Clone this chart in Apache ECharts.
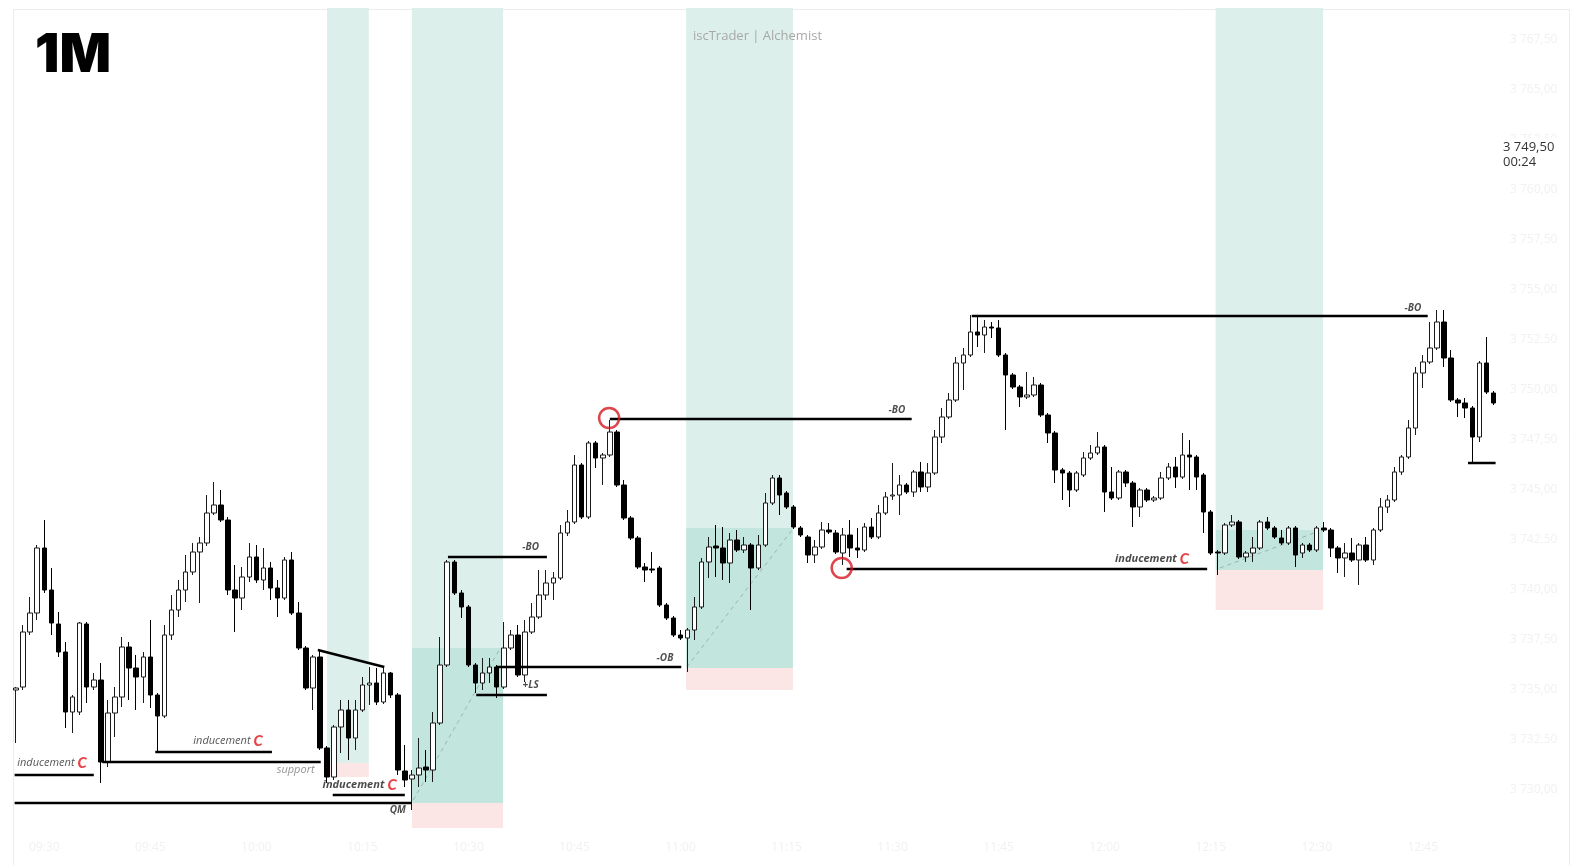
<!DOCTYPE html>
<html>
<head>
<meta charset="utf-8">
<title>1M</title>
<script src="https://cdn.jsdelivr.net/npm/echarts@6/dist/echarts.min.js"></script>
<style>
  html, body { margin: 0; padding: 0; background: #fff; }
  #main { width: 1573px; height: 865px; }
</style>
</head>
<body>
<div id="main"></div>
<script>
// 1-minute candles, [open, close, low, high]
var candles = [
  [3735.0,3735.1,3732.35,3735.15],[3735.15,3737.9,3735.0,3738.25],[3737.9,3738.85,3737.75,3739.65],[3738.85,3742.1,3738.5,3742.25],
  [3742.1,3740.0,3739.85,3743.5],[3740.0,3738.35,3737.75,3741.1],[3738.3,3736.9,3736.65,3738.9],[3736.9,3733.9,3733.1,3737.4],
  [3733.9,3734.65,3732.85,3734.75],[3733.9,3738.35,3733.75,3738.4],[3738.3,3735.15,3734.35,3738.4],[3735.15,3735.5,3735.0,3735.85],
  [3735.5,3731.4,3730.35,3736.35],[3731.4,3733.85,3731.15,3734.5],[3733.85,3734.65,3732.65,3735.15],[3734.65,3737.15,3734.15,3737.65],
  [3737.15,3736.1,3734.5,3737.4],[3736.1,3735.65,3734.0,3736.75],[3735.65,3736.65,3734.35,3736.9],[3736.65,3734.75,3734.1,3738.5],
  [3734.75,3733.7,3731.9,3734.85],[3733.7,3737.75,3733.6,3738.25],[3737.75,3739.0,3737.5,3739.75],[3739.0,3740.0,3738.65,3740.5],
  [3740.0,3740.9,3739.4,3741.75],[3740.9,3741.9,3740.75,3742.35],[3741.9,3742.35,3739.35,3742.65],[3742.35,3743.85,3742.2,3744.75],
  [3743.85,3744.25,3743.75,3745.4],[3744.25,3743.5,3743.4,3745.0],[3743.5,3740.0,3739.75,3743.65],[3740.0,3739.6,3737.9,3741.25],
  [3739.6,3740.65,3739.0,3741.15],[3740.65,3741.65,3740.4,3742.35],[3741.65,3740.5,3740.35,3742.25],[3740.5,3741.1,3740.0,3742.1],
  [3741.1,3740.1,3739.5,3741.4],[3740.1,3739.6,3738.65,3740.5],[3739.6,3741.5,3739.5,3741.65],[3741.5,3738.85,3738.75,3741.9],
  [3738.85,3737.1,3737.0,3739.4],[3737.1,3735.1,3735.0,3737.2],[3735.1,3736.65,3734.0,3736.75],[3736.65,3732.1,3732.0,3737.0],
  [3732.1,3730.65,3730.35,3732.2],[3730.65,3733.15,3730.5,3733.25],[3733.15,3734.0,3731.85,3734.5],[3734.0,3732.6,3731.5,3734.5],
  [3732.6,3734.0,3732.0,3734.5],[3734.0,3735.25,3733.9,3735.65],[3735.25,3735.35,3734.25,3736.15],[3735.35,3734.4,3734.25,3736.1],
  [3734.4,3735.85,3734.3,3736.15],[3735.85,3734.75,3734.6,3735.9],[3734.75,3731.0,3730.75,3734.85],[3730.95,3730.5,3730.15,3732.25],
  [3730.55,3730.75,3729.0,3731.0],[3730.75,3731.1,3730.15,3732.6],[3731.15,3731.0,3730.4,3732.0],[3731.0,3733.35,3730.4,3733.9],
  [3733.35,3736.25,3733.25,3737.65],[3736.25,3741.4,3736.15,3741.5],[3741.4,3739.85,3739.75,3741.5],[3739.85,3739.15,3738.6,3740.0],
  [3739.15,3736.25,3736.15,3739.25],[3736.25,3735.35,3734.85,3736.35],[3735.35,3735.85,3735.0,3736.6],[3735.85,3736.15,3735.35,3736.6],
  [3736.15,3735.15,3734.6,3736.25],[3735.15,3737.1,3735.05,3738.4],[3737.1,3737.75,3737.0,3738.0],[3737.75,3735.75,3735.65,3738.25],
  [3735.75,3737.9,3735.4,3738.5],[3737.9,3738.65,3737.8,3739.35],[3738.65,3739.75,3738.55,3741.0],[3739.75,3740.35,3739.5,3741.0],
  [3740.35,3740.6,3739.5,3740.9],[3740.6,3742.85,3740.5,3743.25],[3742.85,3743.4,3742.7,3744.0],[3743.4,3746.25,3743.3,3746.75],
  [3746.25,3743.65,3743.55,3746.35],[3743.65,3747.35,3743.55,3747.45],[3747.35,3746.6,3746.1,3747.45],[3746.6,3746.75,3745.25,3746.85],
  [3746.75,3747.9,3746.65,3748.5],[3747.9,3745.25,3745.15,3748.0],[3745.25,3743.6,3743.5,3745.5],[3743.6,3742.6,3742.5,3743.7],
  [3742.6,3741.15,3741.05,3742.7],[3741.15,3741.0,3740.4,3741.35],[3741.05,3741.0,3740.85,3741.9],[3741.1,3739.25,3739.15,3741.2],
  [3739.25,3738.6,3738.5,3739.35],[3738.6,3737.75,3737.65,3738.7],[3737.75,3737.6,3737.5,3738.0],[3737.6,3738.0,3735.9,3738.1],
  [3738.0,3739.15,3737.5,3739.65],[3739.15,3741.4,3739.05,3741.6],[3741.4,3742.15,3740.6,3742.65],[3742.2,3742.1,3740.65,3743.25],
  [3742.1,3741.35,3740.5,3743.15],[3741.35,3742.5,3740.35,3742.85],[3742.5,3742.0,3741.9,3743.0],[3742.0,3742.25,3741.85,3742.65],
  [3742.25,3741.1,3739.0,3742.35],[3741.1,3742.25,3741.0,3742.75],[3742.25,3744.35,3742.15,3744.85],[3744.35,3745.6,3744.25,3745.75],
  [3745.6,3744.75,3743.75,3745.75],[3744.85,3744.15,3744.05,3744.95],[3744.15,3743.15,3743.05,3744.25],[3743.1,3742.75,3742.65,3743.2],
  [3742.65,3741.75,3741.35,3742.75],[3741.75,3742.15,3741.35,3742.5],[3742.15,3743.0,3742.05,3743.4],[3743.0,3742.9,3742.8,3743.35],
  [3742.85,3741.9,3741.8,3743.0],[3741.85,3742.75,3741.25,3743.1],[3742.75,3742.1,3741.65,3743.5],[3742.1,3742.0,3741.6,3743.1],
  [3742.0,3743.15,3741.9,3743.35],[3743.15,3742.65,3742.55,3743.6],[3742.65,3743.85,3742.55,3744.25],[3743.85,3744.65,3743.75,3744.9],
  [3744.7,3744.75,3744.5,3746.35],[3744.75,3745.25,3743.75,3745.75],[3745.25,3744.9,3744.8,3745.35],[3744.9,3745.9,3744.65,3746.0],
  [3745.9,3745.15,3744.9,3746.4],[3745.15,3745.85,3744.9,3746.35],[3745.85,3747.65,3745.75,3748.0],[3747.65,3748.65,3747.35,3749.1],
  [3748.65,3749.5,3748.55,3749.85],[3749.5,3751.35,3749.4,3751.65],[3751.35,3751.75,3750.0,3752.1],[3751.75,3752.9,3751.65,3753.75],
  [3752.9,3752.75,3752.15,3753.65],[3752.75,3753.15,3751.85,3753.5],[3753.15,3753.1,3752.6,3753.4],[3753.1,3751.75,3751.65,3753.5],
  [3751.75,3750.75,3748.0,3751.85],[3750.75,3750.15,3750.05,3750.85],[3750.15,3749.65,3749.15,3750.25],[3749.65,3749.75,3749.55,3750.9],
  [3749.75,3750.25,3749.65,3750.65],[3750.25,3748.75,3748.65,3750.35],[3748.75,3747.85,3747.35,3748.85],[3747.85,3746.0,3745.35,3747.95],
  [3746.0,3745.85,3744.5,3746.1],[3745.85,3745.0,3744.15,3745.95],[3745.0,3745.85,3744.9,3745.95],[3745.75,3746.6,3745.65,3746.9],
  [3746.6,3746.85,3746.5,3747.25],[3746.85,3747.15,3746.75,3747.9],[3747.15,3744.9,3743.9,3747.25],[3744.9,3744.6,3744.5,3746.15],
  [3744.6,3745.9,3744.5,3746.0],[3745.9,3745.35,3745.15,3746.0],[3745.35,3744.15,3743.15,3745.45],[3744.15,3745.0,3743.65,3745.1],
  [3745.0,3744.5,3744.4,3745.1],[3744.5,3744.6,3744.4,3744.7],[3744.6,3745.6,3744.5,3745.9],[3745.6,3746.15,3745.5,3746.35],
  [3746.15,3745.65,3745.1,3746.65],[3745.65,3746.75,3745.55,3747.85],[3746.75,3746.65,3745.0,3747.5],[3746.65,3745.65,3745.0,3746.75],
  [3745.75,3743.9,3742.85,3745.85],[3743.9,3741.85,3741.75,3744.0],[3741.9,3741.85,3740.75,3742.0],[3741.85,3743.25,3741.75,3743.35],
  [3743.25,3743.4,3743.15,3743.75],[3743.4,3741.65,3741.55,3743.5],[3741.65,3741.85,3741.4,3741.95],[3741.85,3742.1,3741.4,3742.65],
  [3742.1,3743.4,3742.0,3743.5],[3743.4,3743.1,3743.0,3743.65],[3743.1,3742.65,3742.55,3743.2],[3742.6,3742.35,3742.25,3743.0],
  [3742.35,3743.1,3742.25,3743.2],[3743.1,3741.75,3741.15,3743.2],[3741.85,3742.25,3741.6,3742.35],[3742.25,3742.0,3741.9,3742.35],
  [3742.0,3743.1,3741.9,3743.2],[3743.1,3743.0,3742.9,3743.4],[3743.0,3742.1,3741.65,3743.1],[3742.1,3741.6,3740.85,3742.2],
  [3741.6,3741.85,3740.65,3742.35],[3741.85,3741.5,3741.4,3742.6],[3741.5,3742.25,3740.25,3742.35],[3742.25,3741.5,3741.4,3742.65],
  [3741.5,3743.0,3741.25,3743.1],[3743.0,3744.15,3742.9,3744.6],[3744.15,3744.5,3743.85,3744.75],[3744.5,3745.9,3744.4,3746.15],
  [3745.9,3746.65,3745.75,3746.75],[3746.65,3748.1,3746.55,3748.5],[3748.1,3750.85,3747.75,3751.15],[3750.85,3751.4,3750.1,3751.75],
  [3751.4,3752.1,3751.3,3753.4],[3752.1,3753.4,3752.0,3754.0],[3753.4,3751.6,3751.15,3754.0],[3751.6,3749.5,3749.4,3752.0],
  [3749.5,3749.35,3748.65,3749.6],[3749.35,3749.1,3748.6,3749.6],[3749.1,3747.65,3746.35,3749.2],[3747.65,3751.35,3747.4,3751.45],
  [3751.35,3749.9,3749.8,3752.65],[3749.85,3749.35,3749.25,3749.95]
];

// time labels, one per candle
var startHour = 9, startMin = 26;
var times = candles.map(function (c, i) {
  var m = startHour * 60 + startMin + i;
  var hh = Math.floor(m / 60), mm = m % 60;
  return (hh < 10 ? '0' : '') + hh + ':' + (mm < 10 ? '0' : '') + mm;
});

// horizontal levels: [fromBar, toBar, price]
var levels = [
  [-0.2, 56.0, 3729.35],
  [-0.2, 11.0, 3730.75],
  [12.2, 43.1, 3731.4],
  [19.7, 36.2, 3731.9],
  [44.8, 55.0, 3729.75],
  [61.1, 75.1, 3741.65],
  [68.0, 94.1, 3736.15],
  [65.1, 75.1, 3734.75],
  [84.0, 126.7, 3748.55],
  [117.5, 168.5, 3741.05],
  [135.2, 199.7, 3753.7],
  [205.4, 209.3, 3746.35]
];
// sloped trend line: [bar1, price1, bar2, price2]
var trendLines = [
  [42.7, 3737.0, 52.1, 3736.15]
];
// dashed diagonals inside the position boxes
var dashLines = [
  [56.2, 3729.5, 68.5, 3737.1],
  [94.9, 3736.15, 110.0, 3743.1],
  [170.3, 3741.1, 184.0, 3742.9]
];
// position zones: [fromBar, toBar, top, profitEdge, entry (null = none), stop]
var zones = [
  [44.0, 49.9, 3769.1, 3731.35, null, 3730.65],
  [56.0, 68.9, 3769.1, 3737.1, 3729.35, 3728.1],
  [94.8, 109.9, 3769.1, 3743.1, 3736.1, 3735.0],
  [169.7, 184.9, 3769.1, 3743.0, 3741.0, 3739.0]
];
// circled swing points: [bar, price]
var circles = [[83.9, 3748.6], [116.8, 3741.1]];
// text notes: [bar, price, kind, text]
var notes = [
  [0.1, 3731.35, 'ind', 'inducement'],
  [25.0, 3732.45, 'ind', 'inducement'],
  [36.8, 3731.0, 'sup', 'support'],
  [43.3, 3730.25, 'indb', 'inducement'],
  [54.0, 3729.0, 'tag', 'QM'],
  [72.8, 3742.15, 'tag', '-BO'],
  [91.8, 3736.6, 'tag', '-OB'],
  [72.8, 3735.25, 'tag', '+LS'],
  [124.6, 3749.0, 'tag', '-BO'],
  [155.4, 3741.55, 'indb', 'inducement'],
  [197.6, 3754.1, 'tag', '-BO']
];
var lastPrice = '3 749,50';
var countdown = '00:24';

var chart = echarts.init(document.getElementById('main'));

function fmtPrice(v) {
  var s = v.toFixed(2).replace('.', ',');
  return s.replace(/^(\d)(\d{3})/, '$1 $2');
}

var zoneAreas = [];
zones.forEach(function (z) {
  zoneAreas.push([{ xAxis: z[0], yAxis: z[2], itemStyle: { color: '#dcefeb' } }, { xAxis: z[1], yAxis: z[3] }]);
  if (z[4] !== null) {
    zoneAreas.push([{ xAxis: z[0], yAxis: z[3], itemStyle: { color: '#c2e5dd' } }, { xAxis: z[1], yAxis: z[4] }]);
    zoneAreas.push([{ xAxis: z[0], yAxis: z[4], itemStyle: { color: '#fbe5e5' } }, { xAxis: z[1], yAxis: z[5] }]);
  } else {
    zoneAreas.push([{ xAxis: z[0], yAxis: z[3], itemStyle: { color: '#fbe5e5' } }, { xAxis: z[1], yAxis: z[5] }]);
  }
});

var series = [];
series.push({
  type: 'line', xAxisIndex: 1, data: [], silent: true, z: 1,
  markArea: { silent: true, data: zoneAreas }
});
dashLines.forEach(function (d) {
  series.push({
    type: 'line', xAxisIndex: 1, showSymbol: false, silent: true, z: 2,
    data: [[d[0], d[1]], [d[2], d[3]]],
    lineStyle: { color: '#9fb3ae', width: 1, type: [4, 4] }
  });
});
series.push({
  type: 'candlestick', xAxisIndex: 0, data: candles, barWidth: 5, z: 5,
  itemStyle: { color: '#ffffff', color0: '#000000', borderColor: '#1a1a1a', borderColor0: '#000000', borderWidth: 1 }
});
levels.forEach(function (l) {
  series.push({
    type: 'line', xAxisIndex: 1, showSymbol: false, silent: true, z: 6,
    data: [[l[0], l[2]], [l[1], l[2]]],
    lineStyle: { color: '#000', width: 2.5 }
  });
});
trendLines.forEach(function (t) {
  series.push({
    type: 'line', xAxisIndex: 1, showSymbol: false, silent: true, z: 6,
    data: [[t[0], t[1]], [t[2], t[3]]],
    lineStyle: { color: '#000', width: 2.5 }
  });
});
series.push({
  type: 'scatter', xAxisIndex: 1, symbol: 'circle', symbolSize: 20, z: 7, silent: true,
  data: circles,
  itemStyle: { color: 'rgba(0,0,0,0)', borderColor: '#d3181f', borderWidth: 2.5 }
});

var rich = {
  t: { fontFamily: 'Open Sans', fontStyle: 'italic', fontSize: 11, color: '#2a2a2a' },
  tb: { fontFamily: 'Open Sans', fontStyle: 'italic', fontWeight: 'bold', fontSize: 11, color: '#1a1a1a' },
  c: { fontFamily: 'Lato', fontWeight: 900, fontStyle: 'italic', fontSize: 15, color: '#e0151b', padding: [0, 0, 0, 3] }
};
series.push({
  type: 'scatter', xAxisIndex: 1, symbolSize: 1, z: 8, silent: true,
  itemStyle: { color: 'rgba(0,0,0,0)' },
  data: notes.map(function (n) {
    var lbl;
    if (n[2] === 'ind') {
      lbl = { show: true, position: 'right', distance: 0, formatter: '{t|' + n[3] + '}{c|C}', rich: rich };
    } else if (n[2] === 'indb') {
      lbl = { show: true, position: 'right', distance: 0, formatter: '{tb|' + n[3] + '}{c|C}', rich: rich };
    } else if (n[2] === 'sup') {
      lbl = { show: true, position: 'right', distance: 0, formatter: n[3],
        fontFamily: 'Open Sans', fontStyle: 'italic', fontSize: 11, color: '#777' };
    } else {
      lbl = { show: true, position: 'inside', formatter: n[3],
        fontFamily: 'Open Sans', fontStyle: 'italic', fontWeight: 'bold', fontSize: 10, color: '#222' };
    }
    return { value: [n[0], n[1]], label: lbl };
  })
});

chart.setOption({
  animation: false,
  backgroundColor: '#ffffff',
  title: [
    { text: '1M', left: 30, top: 24, textStyle: { fontFamily: 'Inter', fontWeight: 900, fontSize: 54, color: '#000' } },
    { text: 'iscTrader | Alchemist', left: 688, top: 25, textStyle: { fontFamily: 'Open Sans', fontWeight: 'normal', fontSize: 13, color: '#a8a8a8' } }
  ],
  graphic: [
    { type: 'rect', left: 11, top: 7, shape: { width: 1556, height: 860 }, style: { fill: 'none', stroke: '#ececec', lineWidth: 1 }, z: -1 },
    { type: 'text', left: 1502, top: 138, z: 20,
      style: { text: lastPrice + '\n' + countdown, fill: '#333', font: '13px "Open Sans"', lineHeight: 15, backgroundColor: '#fff', padding: [2, 6, 2, 1] } }
  ],
  grid: { left: 12.5, right: 76, top: 0, bottom: 25 },
  xAxis: [
    {
      type: 'category', data: times, boundaryGap: true,
      axisLine: { show: false }, axisTick: { show: false }, splitLine: { show: false },
      axisLabel: {
        color: '#f1f1f1', fontSize: 12, margin: 2, fontFamily: 'Open Sans',
        interval: function (i) { return i % 15 === 4; }
      }
    },
    { type: 'value', min: -0.5, max: 209.5, show: false }
  ],
  yAxis: {
    type: 'value', position: 'right', min: 3727.5, max: 3769.5, interval: 2.5,
    axisLine: { show: false }, axisTick: { show: false }, splitLine: { show: false },
    axisLabel: { color: '#f1f1f1', fontSize: 12, margin: 13, fontFamily: 'Open Sans', showMinLabel: false, showMaxLabel: false, formatter: fmtPrice }
  },
  series: series
});
</script>
</body>
</html>
